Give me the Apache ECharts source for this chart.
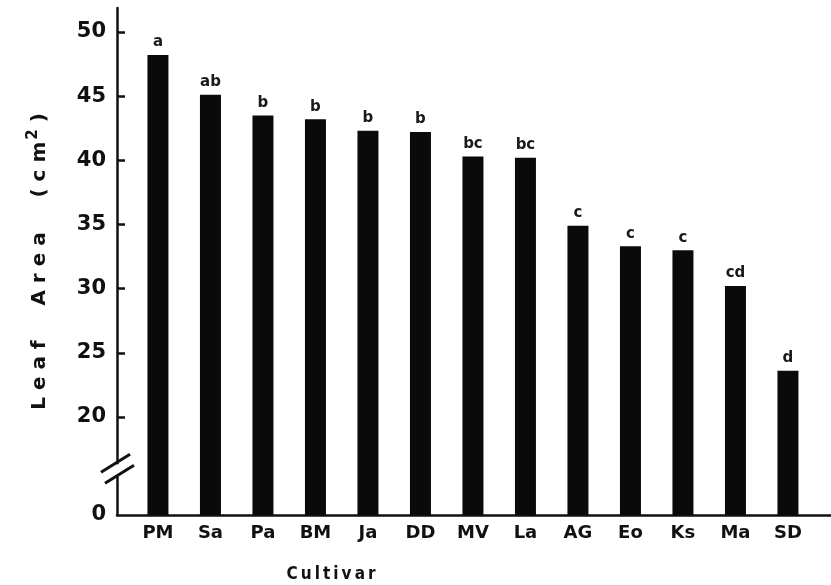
<!DOCTYPE html>
<html>
<head>
<meta charset="utf-8">
<script src="https://cdn.jsdelivr.net/npm/echarts@6/dist/echarts.min.js"></script>
<style>html,body{margin:0;padding:0;background:#fff;}#c{width:831px;height:585px;}</style>
</head>
<body>
<div id="c"></div>
<script>
const categories = ['PM','Sa','Pa','BM','Ja','DD','MV','La','AG','Eo','Ks','Ma','SD'];
const leafArea = [48.2, 45.1, 43.5, 43.2, 42.3, 42.2, 40.3, 40.2, 34.9, 33.3, 33.0, 30.2, 23.6];
const letters = ['a','ab','b','b','b','b','bc','bc','c','c','c','cd','d'];
const yTickValues = [20, 25, 30, 35, 40, 45, 50];
const yMin = 12.36, yMax = 51.87;

const chart = echarts.init(document.getElementById('c'));
const FONT = 'DejaVu Sans';
const option = {
  animation: false,
  backgroundColor: '#fff',
  grid: { left: 117, right: 0, top: 8, bottom: 70, containLabel: false },
  xAxis: {
    type: 'value',
    min: -0.78, max: 12.82,
    splitLine: { show: false },
    axisLine: { show: true, onZero: false, lineStyle: { color: '#111', width: 2.5 } },
    axisTick: { show: false },
    axisLabel: {
      customValues: categories.map((c, i) => i),
      formatter: v => categories[Math.round(v)] || '',
      color: '#111', fontFamily: FONT, fontWeight: 'bold', fontSize: 18, margin: 9,
      showMinLabel: true, showMaxLabel: true, hideOverlap: false
    }
  },
  yAxis: {
    type: 'value',
    min: yMin, max: yMax,
    splitLine: { show: false },
    axisLine: { show: true, onZero: false, lineStyle: { color: '#111', width: 2.5 } },
    axisTick: { show: true, inside: true, length: 8, customValues: yTickValues, lineStyle: { color: '#111', width: 2.5 } },
    axisLabel: {
      customValues: [yMin].concat(yTickValues),
      formatter: v => (v < 19 ? '0' : String(v)),
      color: '#111', fontFamily: FONT, fontWeight: 'bold', fontSize: 21, margin: 11
    },
    name: 'L e a f     A r e a     ( c m{sup|2} )',
    nameLocation: 'middle',
    nameRotate: 90,
    nameGap: 64,
    nameTextStyle: {
      color: '#111', fontFamily: FONT, fontWeight: 'bold', fontSize: 20,
      rich: { sup: { fontSize: 15, fontFamily: FONT, fontWeight: 'bold', color: '#111', verticalAlign: 'top', padding: [0, 0, 12, 2] } }
    }
  },
  series: [{
    type: 'bar',
    barWidth: 21,
    data: leafArea.map((v, i) => [i, v]),
    itemStyle: { color: '#0a0a0a' },
    label: {
      show: true, position: 'top', distance: 5,
      formatter: p => letters[p.dataIndex],
      color: '#1a1a1a', fontFamily: FONT, fontWeight: 'bold', fontSize: 15
    }
  }]
};
chart.setOption(option);

// axis break decoration and x-axis title
const ax = chart.convertToPixel({ xAxisIndex: 0 }, -0.78);
const yb = chart.convertToPixel({ yAxisIndex: 0 }, 16.0);
chart.setOption({
  graphic: [
    { type: 'rect', shape: { x: ax - 4, y: yb - 4, width: 8, height: 12 }, style: { fill: '#fff' }, z: 100 },
    { type: 'line', shape: { x1: ax - 16, y1: yb + 4, x2: ax + 13, y2: yb - 14 }, style: { stroke: '#111', lineWidth: 3 }, z: 101 },
    { type: 'line', shape: { x1: ax - 12, y1: yb + 15, x2: ax + 17, y2: yb - 3 }, style: { stroke: '#111', lineWidth: 3 }, z: 101 },
    { type: 'text', x: 331, y: 575, style: { text: 'C\u2009u\u2009l\u2009t\u2009i\u2009v\u2009a\u2009r', fill: '#111', font: 'bold 17px "Liberation Sans Narrow", "DejaVu Sans Condensed", sans-serif', textAlign: 'center', textVerticalAlign: 'middle' }, z: 101 }
  ]
});
</script>
</body>
</html>
